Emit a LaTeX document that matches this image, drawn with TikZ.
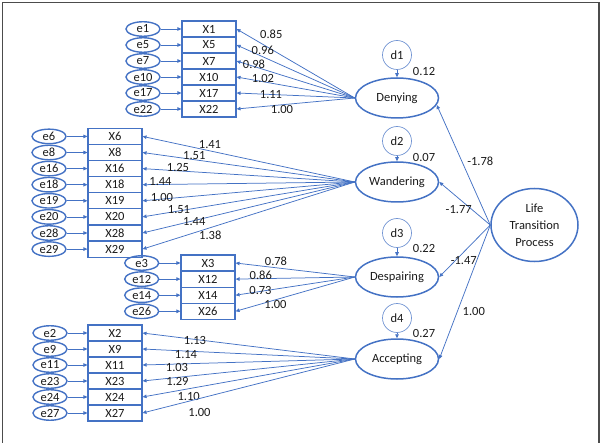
\documentclass[tikz,border=0pt]{standalone}
\usepackage{fontspec}
\setmainfont{Carlito}
\usetikzlibrary{arrows.meta,shapes.geometric,calc}
\definecolor{sb}{HTML}{4472C4}
\definecolor{tx}{HTML}{1A1A1A}
\begin{document}
\begin{tikzpicture}[x=1pt,y=-1pt,
  font=\fontsize{12.5}{14}\selectfont, text=tx,
  obs/.style={draw=sb,line width=1.1pt,minimum width=54pt,minimum height=16pt,inner sep=0pt},
  err/.style={ellipse,draw=sb,line width=1.4pt,minimum width=34pt,minimum height=14.5pt,inner sep=0pt},
  lat/.style={ellipse,draw=sb,line width=1.5pt,minimum width=83pt,minimum height=40pt,inner sep=0pt},
  dist/.style={circle,draw=sb!75,line width=0.7pt,minimum size=29pt,inner sep=0pt},
  arr/.style={draw=sb,line width=0.75pt,-{Triangle[length=4pt,width=3.5pt]}},
  lbl/.style={inner sep=0pt}
]
\useasboundingbox (0,0) rectangle (604,443);
\draw[gray!60!black,line width=1.2pt] (2.5,446) -- (2.5,2.5) -- (599,2.5) -- (599,446);

% latent factors
\node[lat] (Den) at (397,98) {Denying};
\node[lat] (Wan) at (397,182) {Wandering};
\node[lat] (Des) at (397,277) {Despairing};
\node[lat] (Acc) at (397,359) {Accepting};
\node[lat,minimum width=87pt,minimum height=73pt,align=center,font=\fontsize{12.5}{17}\selectfont] (Life) at (534.5,225) {Life\\Transition\\Process};

% disturbances
\foreach \d/\f/\y/\v/\vy in {d1/Den/55/0.12/71, d2/Wan/141/0.07/157, d3/Des/233/0.22/248, d4/Acc/318/0.27/333}{
  \node[dist] (\d) at (397,\y) {\d};
  \draw[arr] (\d) -- (\f);
  \node[lbl] (v\d) at (424,\vy) {\v};
}

% second-order paths
\draw[arr] (Life.west) -- (Den.-10);
\draw[arr] (Life.west) -- (Wan.east);
\draw[arr] (Life.west) -- (Des.east);
\draw[arr] (Life.west) -- (Acc.east);
\node[lbl] (p1) at (480.3,161) {-1.78};
\node[lbl] (p2) at (458.7,210) {-1.77};
\node[lbl] (p3) at (463.8,260.7) {-1.47};
\node[lbl] (p4) at (473.8,311) {1.00};

% group 1: Denying
\foreach \e/\x/\v/\lx/\ly [count=\i from 0] in {e1/X1/0.85/271.3/34.3, e5/X5/0.96/262.8/50, e7/X7/0.98/254/64.3, e10/X10/1.02/263/78.7, e17/X17/1.11/271/94.3, e22/X22/1.00/282/109.3}{
  \node[obs] (\x) at (209,{29+16*\i}) {\x};
  \node[err] (\e) at (143,{29+16*\i}) {\e};
  \draw[arr] (\e) -- (\x);
  \draw[arr] (Den.west) -- (\x.east);
  \node[lbl] (l\x) at (\lx,\ly) {\v};
}

% group 2: Wandering
\foreach \e/\x/\v/\lx/\ly [count=\i from 0] in {e6/X6/1.41/210/144.3, e8/X8/1.51/194.3/155.7, e16/X16/1.25/178/167.7, e18/X18/1.44/160.5/181.7, e19/X19/1.00/162/197, e20/X20/1.51/179/209.3, e28/X28/1.44/194.3/221.7, e29/X29/1.38/210.3/235}{
  \node[obs] (\x) at (115,{136.4+16.1*\i}) {\x};
  \node[err] (\e) at (49,{136.4+16.1*\i}) {\e};
  \draw[arr] (\e) -- (\x);
  \draw[arr] (Wan.west) -- (\x.east);
  \node[lbl] (l\x) at (\lx,\ly) {\v};
}

% group 3: Despairing
\foreach \e/\x/\v/\lx/\ly [count=\i from 0] in {e3/X3/0.78/276/261.7, e12/X12/0.86/260.8/275.7, e14/X14/0.73/260.5/290.7, e26/X26/1.00/275.5/304}{
  \node[obs] (\x) at (208,{263+16.1*\i}) {\x};
  \node[err] (\e) at (141.7,{263+16.1*\i}) {\e};
  \draw[arr] (\e) -- (\x);
  \draw[arr] (Des.west) -- (\x.east);
  \node[lbl] (l\x) at (\lx,\ly) {\v};
}

% group 4: Accepting
\foreach \e/\x/\v/\lx/\ly [count=\i from 0] in {e2/X2/1.13/195/340.7, e9/X9/1.14/186/354.3, e11/X11/1.03/177/367.3, e23/X23/1.29/177.5/381.7, e24/X24/1.10/188.7/396.7, e27/X27/1.00/199.5/412.7}{
  \node[obs] (\x) at (115,{333+16*\i}) {\x};
  \node[err] (\e) at (50,{333+16*\i}) {\e};
  \draw[arr] (\e) -- (\x);
  \draw[arr] (Acc.west) -- (\x.east);
  \node[lbl] (l\x) at (\lx,\ly) {\v};
}
\end{tikzpicture}
\end{document}
